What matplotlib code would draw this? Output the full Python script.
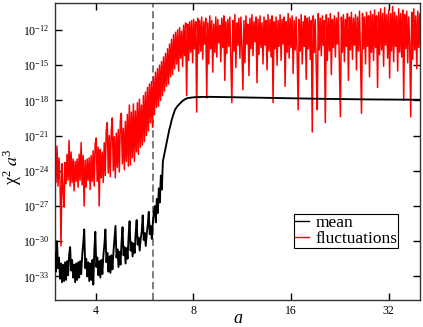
import matplotlib
matplotlib.use('Agg')
import matplotlib.pyplot as plt
import numpy as np
from matplotlib.ticker import NullLocator

plt.rcParams['font.family'] = 'serif'
plt.rcParams['font.serif'] = ['Liberation Serif', 'DejaVu Serif']
plt.rcParams['mathtext.fontset'] = 'stix'
plt.rcParams['mathtext.default'] = 'regular'

# a-range of the plot and position of the dashed marker
a_min, a_max = 3.0, 40.0
a_mark = 6.0

# mean: oscillating part, log10(chi^2 a^3) read on an even log-a grid from 3.0 to 6.45
mean_osc_end = 6.45
mean_osc_log = [
    -31.0, -32.6, -30.0, -32.3, -31.4, -33.2, -31.9, -33.5, -32.0, -33.4,
    -31.8, -33.3, -31.7, -32.9, -31.2, -30.5, -32.5, -31.6, -33.1, -32.0,
    -33.5, -31.9, -33.3, -31.8, -33.1, -31.7, -32.8, -31.2, -30.2, -29.0,
    -32.3, -31.5, -33.0, -31.8, -33.4, -31.9, -33.3, -31.6, -33.7, -30.8,
    -29.2, -32.2, -31.4, -32.9, -31.7, -33.1, -31.6, -32.8, -31.2, -30.3,
    -29.0, -31.8, -31.0, -32.6, -31.3, -32.7, -31.2, -32.4, -30.9, -29.8,
    -28.7, -31.4, -30.7, -32.2, -30.9, -32.0, -30.1, -28.8, -31.2, -30.5,
    -31.9, -30.6, -31.5, -29.6, -28.3, -30.8, -30.1, -31.3, -30.2, -31.0,
    -29.3, -28.2, -30.3, -29.7, -30.8, -29.8, -29.2, -27.8, -29.9, -29.3,
    -30.4, -29.4, -28.6, -27.5, -29.4, -28.7, -29.8, -28.5, -27.6, -27.0,
    -28.4, -26.4, -27.6, -25.5, -26.7, -24.4, -25.6, -23.2,
]

# mean: smooth rise and plateau
mean_tail_a = [6.55, 6.63, 6.70, 6.75, 6.81, 6.87, 6.95, 7.03, 7.15, 7.29,
               7.45, 7.65, 8.0, 8.5, 9.0, 12.0, 16.0, 20.0, 28.0, 40.0]
mean_tail_log = [-22.3, -21.6, -21.0, -20.5, -20.1, -19.65, -19.2, -18.8, -18.5, -18.25,
                 -18.0, -17.82, -17.74, -17.71, -17.70, -17.76, -17.82, -17.87, -17.92, -17.95]

# fluctuations: log10 values read on an even log-a grid from 3.0 to 40.5
fluct_end = 40.5
fluct_log = [
    -22.8, -25.0, -21.9, -25.3, -22.9, -24.9, -30.4, -23.4, -25.5, -27.1,
    -23.3, -25.1, -22.6, -24.8, -21.4, -25.3, -22.4, -25.0, -23.0, -25.7,
    -23.2, -24.9, -23.0, -25.4, -22.6, -24.8, -21.6, -25.2, -22.7, -27.0,
    -23.1, -25.4, -23.0, -24.8, -22.9, -25.6, -22.7, -24.9, -22.3, -25.3,
    -21.7, -21.2, -24.9, -22.0, -27.0, -22.2, -24.6, -22.4, -25.0, -21.6,
    -24.4, -20.6, -19.9, -24.2, -21.0, -24.5, -20.6, -19.5, -24.0, -21.1,
    -24.6, -20.8, -23.7, -20.5, -24.1, -19.8, -19.1, -23.4, -20.4, -23.9,
    -19.8, -23.2, -19.2, -23.6, -18.4, -23.5, -19.0, -22.9, -18.3, -23.2,
    -18.9, -22.4, -18.2, -22.6, -17.9, -22.0, -18.4, -21.8, -17.6, -21.5,
    -17.3, -21.0, -16.9, -20.6, -16.6, -19.9, -16.4, -20.3, -16.0, -19.2,
    -15.6, -18.6, -15.3, -18.5, -15.0, -18.0, -14.7, -17.6, -14.3, -17.2,
    -14.0, -16.8, -13.6, -16.6, -13.2, -16.0, -12.8, -15.8, -12.4, -15.3,
    -12.2, -14.9, -12.0, -15.5, -11.8, -14.4, -12.1, -15.1, -11.6, -14.2,
    -11.4, -17.6, -11.5, -14.6, -11.3, -13.9, -11.2, -14.8, -11.1, -13.6,
    -11.3, -19.0, -11.0, -14.0,
    -11.2, -13.8, -10.9, -14.5, -11.3, -13.2, -11.0, -17.8, -11.4, -14.9,
    -10.8, -13.6, -11.2, -15.6, -11.5, -13.9, -10.9, -14.3, -11.1, -13.1,
    -11.6, -14.7, -11.0, -13.5, -10.8, -16.3, -11.3, -14.0, -11.1, -13.4,
    -10.9, -14.6, -18.2, -11.2, -13.8, -10.7, -15.2, -11.4, -13.3, -11.0,
    -14.4, -10.9, -13.7, -17.1, -11.2, -14.8, -10.8, -13.2, -11.5, -15.9,
    -11.0, -13.6, -10.7, -14.2, -11.3, -13.0, -10.9, -16.5, -11.1, -14.1,
    -10.8, -13.5, -11.4, -14.9, -10.9, -13.3, -11.2, -15.4, -10.7, -13.8,
    -11.1, -14.3, -10.8, -18.2, -11.3, -13.6, -10.9, -15.0, -11.2, -13.4,
    -10.7, -14.6, -11.1, -13.2, -10.9, -16.8, -11.3, -13.9, -10.6, -14.4,
    -11.0, -13.5, -10.8, -15.7, -11.2, -13.7, -10.9, -14.2, -18.8, -11.1,
    -13.8, -10.7, -14.9, -11.3, -13.4, -10.8, -16.2, -11.0, -13.6, -10.9,
    -14.5, -11.2, -20.7, -10.8, -13.9, -11.1, -15.3, -18.8, -10.6, -13.7,
    -11.0, -14.2, -10.8, -13.3, -11.2, -19.9, -10.7, -14.6, -11.0, -13.8,
    -10.6, -15.8, -11.1, -13.5, -10.8, -14.3, -11.0, -13.2, -10.5, -15.1,
    -19.4, -10.9, -13.9, -10.7, -14.7, -11.1, -13.4, -10.6, -16.3, -10.9,
    -13.7, -10.5, -14.5, -11.0, -13.3, -10.7, -15.4, -10.9, -13.8, -10.4,
    -14.2, -19.1, -10.6, -13.6, -10.9, -14.9, -10.5, -13.4, -10.8, -16.0,
    -10.4, -13.9, -10.7, -14.6, -10.3, -13.5, -10.8, -16.9, -10.5, -14.1,
    -10.2, -13.7, -10.6, -15.1, -10.1, -13.3, -10.7, -14.4, -10.3, -16.1,
    -10.6, -13.8, -10.0, -14.7, -10.5, -13.4, -10.8, -15.5, -10.2, -13.9,
    -10.6, -14.3, -10.3, -18.0, -10.7, -13.6, -10.4, -14.8, -10.9, -13.2,
    -19.4, -10.5, -14.5, -10.2, -13.7, -10.8, -15.3, -10.4, -13.5, -10.6,
    -14.1, -10.9,
]

y_ticks = [1e-33, 1e-30, 1e-27, 1e-24, 1e-21, 1e-18, 1e-15, 1e-12]
x_ticks = [4, 8, 16, 32]

# sample positions
a_osc = np.geomspace(a_min, mean_osc_end, len(mean_osc_log))
a_mean = np.concatenate([a_osc, mean_tail_a])
y_mean = 10.0 ** np.concatenate([mean_osc_log, mean_tail_log])
a_fluct = np.geomspace(a_min, fluct_end, len(fluct_log))
y_fluct = 10.0 ** np.array(fluct_log)

fig = plt.figure(figsize=(4.23, 3.27), dpi=100)
ax = fig.add_axes([0.130, 0.083, 0.863, 0.908])

ax.plot(a_fluct, y_fluct, color='#ff0000', lw=1.1, label='fluctuations', zorder=2)
ax.plot(a_mean, y_mean, color='black', lw=1.35, label='mean', zorder=3)
ax.axvline(a_mark, color='0.45', lw=1.3, linestyle=(0, (4, 2)), zorder=1)

ax.set_xscale('log', base=2)
ax.set_yscale('log')
ax.set_xlim(a_min, a_max)
ax.set_ylim(1e-35, 2e-10)

ax.set_xticks(x_ticks)
ax.set_xticklabels([str(t) for t in x_ticks])
ax.set_yticks(y_ticks)
ax.xaxis.set_minor_locator(NullLocator())
ax.yaxis.set_minor_locator(NullLocator())
ax.tick_params(direction='in', top=True, right=True, length=5, width=1,
               labelsize=8.5, pad=4)
for s in ax.spines.values():
    s.set_linewidth(1.0)
    s.set_color('#333333')

ax.set_xlabel('a', fontsize=13, fontstyle='italic')
ax.xaxis.set_label_coords(0.5, -0.035)
ax.set_ylabel(r'$\chi^{2}\ \mathit{a}^{3}$', fontsize=13)
ax.yaxis.set_label_coords(-0.085, 0.45)

h, l = ax.get_legend_handles_labels()
leg = ax.legend([h[1], h[0]], [l[1], l[0]], loc='lower right',
                bbox_to_anchor=(0.94, 0.175), fontsize=12.5, frameon=True,
                fancybox=False, edgecolor='black', framealpha=1,
                handlelength=0.8, handletextpad=0.35, borderpad=0.05,
                labelspacing=0.0, borderaxespad=0)
leg.get_frame().set_linewidth(0.8)
for line in leg.get_lines():
    line.set_linewidth(1.0)

fig.savefig('out.png', dpi=100)
plt.close(fig)
